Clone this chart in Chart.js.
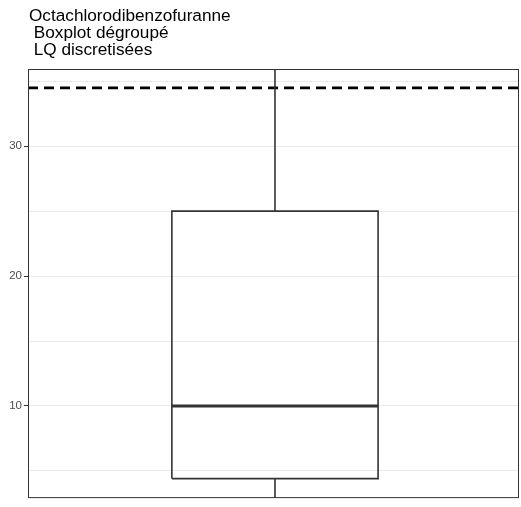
<!DOCTYPE html>
<html>
<head>
<meta charset="utf-8">
<script src="https://cdn.jsdelivr.net/npm/chart.js@4.4.1/dist/chart.umd.min.js"></script>
<style>
  html, body { margin: 0; padding: 0; background: #fff; }
  #wrap { width: 521px; height: 507px; }
</style>
</head>
<body>
<div id="wrap"><canvas id="boxChart" width="521" height="507"></canvas></div>
<script>
// Title lines (kept as in the original, with the leading spaces)
var titleLines = ['Octachlorodibenzofuranne', ' Boxplot dégroupé', ' LQ discretisées'];

// Box statistics
var boxLabels = ['Q1', 'median', 'Q3'];
var boxValues = [4.4, 10, 25];
var whiskerLow = 2;
var whiskerHigh = 40;
var limitValue = 34.5; // dashed reference line (LQ)

// y axis range and tick labels
var yRange = [2.9, 35.95];
var yTickLabels = [10, 20, 30];

// horizontal position of the box on a 0..1 axis
var boxLeft = 0.293, boxRight = 0.713, boxCenter = 0.503;

var q1 = boxValues[0], med = boxValues[1], q3 = boxValues[2];

// draws the title text and the panel border (theme_bw look)
var panelPlugin = {
    id: 'panel',
    afterDraw: function (chart) {
        var ctx = chart.ctx;
        var a = chart.chartArea;
        ctx.save();
        ctx.strokeStyle = '#333333';
        ctx.lineWidth = 1;
        ctx.strokeRect(a.left + 0.5, a.top + 0.5, a.right - a.left - 1, a.bottom - a.top - 1);

        ctx.fillStyle = '#000000';
        ctx.font = '17.2px "Liberation Sans", Arial, sans-serif';
        ctx.textBaseline = 'alphabetic';
        ctx.textAlign = 'left';
        for (var i = 0; i < titleLines.length; i++) {
            ctx.fillText(titleLines[i], 29, 20.5 + i * 17);
        }
        ctx.restore();
    }
};

var lineStyle = { borderColor: '#333333', pointRadius: 0, fill: false, tension: 0 };

const ctx = document.getElementById('boxChart').getContext('2d');
const chartConfig = {
    type: 'line',
    data: {
        datasets: [
            Object.assign({
                label: 'box',
                borderWidth: 1.6,
                data: [
                    { x: boxLeft, y: q1 }, { x: boxLeft, y: q3 },
                    { x: boxRight, y: q3 }, { x: boxRight, y: q1 },
                    { x: boxLeft, y: q1 }
                ]
            }, lineStyle),
            Object.assign({
                label: 'median',
                borderWidth: 3,
                data: [{ x: boxLeft, y: med }, { x: boxRight, y: med }]
            }, lineStyle),
            Object.assign({
                label: 'upper whisker',
                borderWidth: 1.6,
                clip: 0,
                data: [{ x: boxCenter, y: q3 }, { x: boxCenter, y: whiskerHigh }]
            }, lineStyle),
            Object.assign({
                label: 'lower whisker',
                borderWidth: 1.6,
                clip: 0,
                data: [{ x: boxCenter, y: q1 }, { x: boxCenter, y: whiskerLow }]
            }, lineStyle),
            {
                label: 'LQ',
                borderColor: '#000000',
                borderWidth: 2.6,
                borderDash: [10, 6],
                pointRadius: 0,
                fill: false,
                clip: 0,
                data: [{ x: 0, y: limitValue }, { x: 1, y: limitValue }]
            }
        ]
    },
    options: {
        responsive: false,
        animation: false,
        layout: { padding: { top: 69, right: 2, bottom: 5, left: 0 } },
        plugins: {
            legend: { display: false },
            tooltip: { enabled: false },
            title: { display: false }
        },
        scales: {
            x: {
                type: 'linear',
                min: 0,
                max: 1,
                display: false
            },
            y: {
                type: 'linear',
                min: yRange[0],
                max: yRange[1],
                afterFit: function (scale) { scale.width = 28; },
                border: { display: false },
                grid: {
                    color: '#EBEBEB',
                    lineWidth: 1,
                    tickLength: 4,
                    tickColor: function (c) {
                        return c.tick && yTickLabels.indexOf(c.tick.value) >= 0 ? '#333333' : 'rgba(0,0,0,0)';
                    }
                },
                ticks: {
                    stepSize: 5,
                    includeBounds: false,
                    padding: 2,
                    color: '#4D4D4D',
                    font: { family: '"Liberation Sans", Arial, sans-serif', size: 11.5 },
                    callback: function (value) {
                        return yTickLabels.indexOf(value) >= 0 ? String(value) : '';
                    }
                }
            }
        }
    },
    plugins: [panelPlugin]
};
const mainChart = new Chart(ctx, chartConfig);
</script>
</body>
</html>
